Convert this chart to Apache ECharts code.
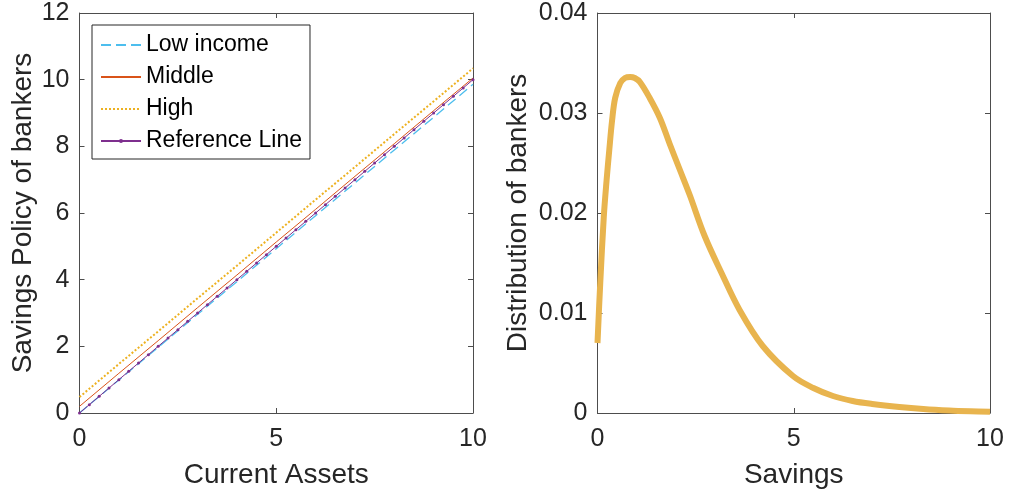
<!DOCTYPE html>
<html>
<head>
<meta charset="utf-8">
<script src="https://cdn.jsdelivr.net/npm/echarts@6/dist/echarts.min.js"></script>
<style>
html,body{margin:0;padding:0;background:#fff;}
#chart{width:1013px;height:501px;}
</style>
</head>
<body>
<div id="chart"></div>
<script>
// Left panel: savings policy
const assetsX = [0, 1, 2, 3, 4, 5, 6, 7, 8, 9, 10];
const lowIncome = [0, 0.99, 1.97, 2.96, 3.94, 4.93, 5.92, 6.90, 7.89, 8.87, 9.86];
const middle = [0.2, 1.19, 2.17, 3.16, 4.14, 5.13, 6.11, 7.10, 8.08, 9.07, 10.05];
const high = [0.48, 1.47, 2.45, 3.44, 4.42, 5.41, 6.40, 7.38, 8.37, 9.35, 10.34];
const refX = [0, 0.25, 0.5, 0.75, 1, 1.25, 1.5, 1.75, 2, 2.25, 2.5, 2.75, 3, 3.25, 3.5, 3.75, 4, 4.25, 4.5, 4.75, 5,
              5.25, 5.5, 5.75, 6, 6.25, 6.5, 6.75, 7, 7.25, 7.5, 7.75, 8, 8.25, 8.5, 8.75, 9, 9.25, 9.5, 9.75, 10];
const refY = [0, 0.25, 0.5, 0.75, 1, 1.25, 1.5, 1.75, 2, 2.25, 2.5, 2.75, 3, 3.25, 3.5, 3.75, 4, 4.25, 4.5, 4.75, 5,
              5.25, 5.5, 5.75, 6, 6.25, 6.5, 6.75, 7, 7.25, 7.5, 7.75, 8, 8.25, 8.5, 8.75, 9, 9.25, 9.5, 9.75, 10];
const legendNames = ['Low income', 'Middle', 'High', 'Reference Line'];

// Right panel: distribution
const savingsX = [0, 0.07, 0.16, 0.23, 0.30, 0.37, 0.45, 0.58, 0.70, 0.83, 0.95, 1.08, 1.33, 1.59, 1.84, 2.10,
                  2.35, 2.73, 3.16, 3.62, 4.21, 4.98, 5.5, 6.0, 6.5, 7.0, 7.69, 8.3, 8.96, 9.5, 10];
const distY = [0.0070, 0.0130, 0.0196, 0.0232, 0.0263, 0.0292, 0.0315, 0.0330, 0.0335, 0.0336, 0.0335, 0.0331,
               0.0315, 0.0295, 0.0269, 0.0243, 0.0218, 0.0177, 0.0140, 0.0103, 0.0067, 0.0037, 0.0025, 0.0017,
               0.0012, 0.0009, 0.0006, 0.0004, 0.00025, 0.00017, 0.00012];

const leftXTicks = [0, 10, 5];   // min, max, interval
const leftYTicks = [0, 12, 2];
const rightXTicks = [0, 10, 5];
const rightYTicks = [0, 0.04, 0.01];

const FONT = '"Liberation Sans", Arial, Helvetica, sans-serif';
const AX = '#4d4d4d';
const TXT = '#262626';

function zip(a, b) { return a.map((v, i) => [v, b[i]]); }

function mainAxis(t, name, gap, isY, gridIndex) {
  return {
    type: 'value', gridIndex: gridIndex, min: t[0], max: t[1], interval: t[2],
    name: name, nameLocation: 'middle', nameGap: gap,
    nameTextStyle: { fontFamily: FONT, fontSize: 28, color: TXT },
    axisLine: { show: true, onZero: false, lineStyle: { color: AX, width: 1 } },
    axisTick: { show: true, inside: true, length: 5, lineStyle: { color: AX, width: 1 } },
    axisLabel: { fontFamily: FONT, fontSize: 25, color: TXT, margin: isY ? 10 : 14 },
    splitLine: { show: false }
  };
}
function boxAxis(t, pos, gridIndex) {
  return {
    type: 'value', gridIndex: gridIndex, min: t[0], max: t[1], interval: t[2], position: pos,
    axisLine: { show: true, onZero: false, lineStyle: { color: AX, width: 1 } },
    axisTick: { show: true, inside: true, length: 5, lineStyle: { color: AX, width: 1 } },
    axisLabel: { show: false }, splitLine: { show: false }
  };
}

const hiddenSym = { color: 'rgba(0,0,0,0)', borderWidth: 0, opacity: 0 };

const chart = echarts.init(document.getElementById('chart'), null, { renderer: 'canvas' });
chart.setOption({
  backgroundColor: '#ffffff',
  animation: false,
  grid: [
    { left: 79.5, top: 13, width: 393.5, height: 400 },
    { left: 597.5, top: 13, width: 392.5, height: 400 }
  ],
  xAxis: [
    mainAxis(leftXTicks, 'Current Assets', 48, false, 0),
    boxAxis(leftXTicks, 'top', 0),
    mainAxis(rightXTicks, 'Savings', 48, false, 1),
    boxAxis(rightXTicks, 'top', 1)
  ],
  yAxis: [
    mainAxis(leftYTicks, 'Savings Policy of bankers', 42, true, 0),
    boxAxis(leftYTicks, 'right', 0),
    mainAxis(rightYTicks, 'Distribution of bankers', 65, true, 1),
    boxAxis(rightYTicks, 'right', 1)
  ],
  legend: {
    data: [
      { name: legendNames[0], itemStyle: hiddenSym },
      { name: legendNames[1], itemStyle: hiddenSym },
      { name: legendNames[2], itemStyle: hiddenSym },
      { name: legendNames[3] }
    ],
    left: 92, top: 25, orient: 'vertical',
    padding: [8, 8, 6, 8],
    itemWidth: 40, itemHeight: 5, itemGap: 8,
    borderColor: '#262626', borderWidth: 1, backgroundColor: '#fff',
    textStyle: { fontFamily: FONT, fontSize: 23, color: '#000', lineHeight: 24 }
  },
  series: [
    { name: legendNames[0], type: 'line', xAxisIndex: 0, yAxisIndex: 0, data: zip(assetsX, lowIncome),
      symbol: 'none', lineStyle: { color: '#4DBEEE', width: 1.3, type: [10, 5] }, itemStyle: { color: '#4DBEEE' } },
    { name: legendNames[1], type: 'line', xAxisIndex: 0, yAxisIndex: 0, data: zip(assetsX, middle),
      symbol: 'none', lineStyle: { color: '#D95319', width: 1 }, itemStyle: { color: '#D95319' } },
    { name: legendNames[2], type: 'line', xAxisIndex: 0, yAxisIndex: 0, data: zip(assetsX, high),
      symbol: 'none', lineStyle: { color: '#EDB120', width: 2, type: [2, 2] }, itemStyle: { color: '#EDB120' } },
    { name: legendNames[3], type: 'line', xAxisIndex: 0, yAxisIndex: 0, data: zip(refX, refY),
      symbol: 'circle', symbolSize: 3, showSymbol: true,
      lineStyle: { color: '#7E2F8E', width: 1 }, itemStyle: { color: '#7E2F8E' } },
    { name: 'dist', type: 'line', xAxisIndex: 2, yAxisIndex: 2, data: zip(savingsX, distY),
      symbol: 'none', smooth: 0.35,
      lineStyle: { color: '#E8B44E', width: 6, cap: 'butt', join: 'round' }, itemStyle: { color: '#E8B44E' } }
  ]
});
</script>
</body>
</html>
